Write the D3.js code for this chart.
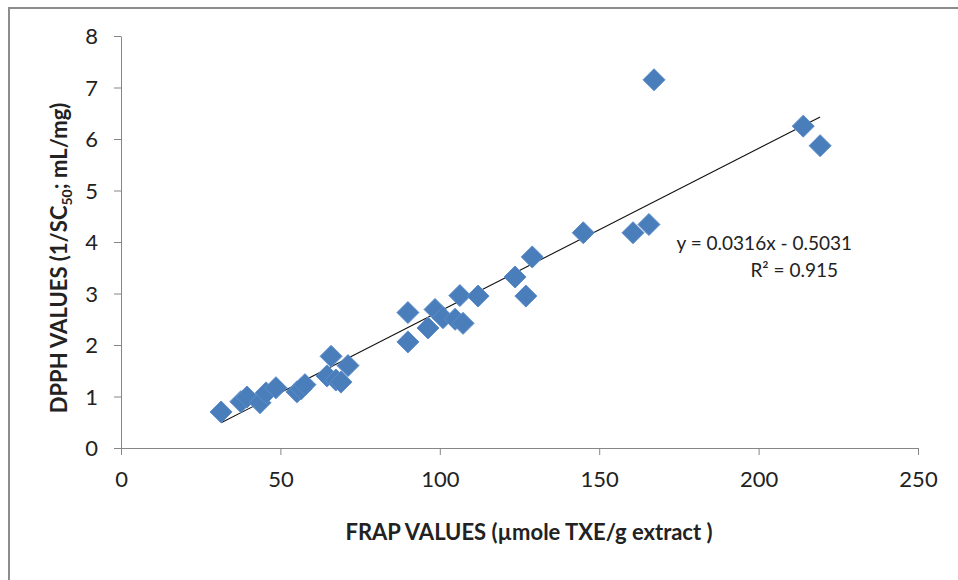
<!DOCTYPE html>
<html>
<head>
<meta charset="utf-8">
<script src="https://cdn.jsdelivr.net/npm/d3@7"></script>
<style>
  body { margin: 0; background: #fff; }
  text { font-family: Lato, "Open Sans", sans-serif; }
</style>
</head>
<body>
<div id="scatter"></div>
<script>
// FRAP vs DPPH values
var frap = [31.4, 37.6, 39.5, 43.6, 45.5, 48.6, 55.2, 56.5, 57.7, 65.9, 64.6, 67.4, 69.0, 71.2,
            90.0, 90.0, 96.3, 98.5, 101.0, 104.8, 107.3, 106.3, 112.0, 123.6, 127.0, 129.0,
            145.0, 160.6, 165.6, 167.2, 214.0, 219.3];
var dpph = [0.70, 0.90, 0.99, 0.88, 1.07, 1.17, 1.09, 1.15, 1.23, 1.78, 1.40, 1.32, 1.28, 1.60,
            2.06, 2.63, 2.33, 2.69, 2.53, 2.50, 2.42, 2.96, 2.95, 3.32, 2.95, 3.71,
            4.18, 4.18, 4.34, 7.15, 6.25, 5.87];
var xTicks = [0, 50, 100, 150, 200, 250];
var yTicks = [0, 1, 2, 3, 4, 5, 6, 7, 8];
var slope = 0.0316;
var intercept = -0.5031;
var eqLines = ["y = 0.0316x - 0.5031", "R\u00b2 = 0.915"];

var svgWidth = 958;
var svgHeight = 580;

var chartMargin = { top: 36, left: 121, right: 40, bottom: 132 };
var chartWidth = svgWidth - chartMargin.left - chartMargin.right;   // 797
var chartHeight = svgHeight - chartMargin.top - chartMargin.bottom; // 412

var data = frap.map(function(f, i) { return { frap: f, dpph: dpph[i] }; });

var svg = d3.select("#scatter")
  .append("svg")
  .attr("width", svgWidth)
  .attr("height", svgHeight);

// outer frame (only top/left visible)
svg.append("rect")
  .attr("x", 9).attr("y", 8)
  .attr("width", 970).attr("height", 600)
  .attr("fill", "none")
  .attr("stroke", "#8c8c8c")
  .attr("stroke-width", 2);

var chartGroup = svg.append("g")
  .attr("transform", `translate(${chartMargin.left}, ${chartMargin.top})`);

var xScale = d3.scaleLinear().domain([0, 250]).range([0, chartWidth]);
var yScale = d3.scaleLinear().domain([0, 8]).range([chartHeight, 0]);

var bottomAxis = d3.axisBottom(xScale).tickValues(xTicks).tickSize(7).tickPadding(16).tickSizeOuter(0);
var leftAxis = d3.axisLeft(yScale).tickValues(yTicks).tickSize(7).tickPadding(16).tickSizeOuter(0);

var gx = chartGroup.append("g")
  .attr("transform", `translate(0, ${chartHeight})`)
  .call(bottomAxis);
var gy = chartGroup.append("g")
  .call(leftAxis);

[gx, gy].forEach(function(g) {
  g.selectAll("path, line").attr("stroke", "#868686").attr("stroke-width", 1);
  g.selectAll("text")
    .attr("fill", "#222")
    .style("font-size", "22px")
    .style("font-family", "Lato, 'Open Sans', sans-serif");
});
gy.selectAll("text").attr("dy", "0.36em");

// trendline from smallest to largest x
var xMin = d3.min(frap), xMax = d3.max(frap);
chartGroup.append("line")
  .attr("x1", xScale(xMin)).attr("y1", yScale(slope * xMin + intercept))
  .attr("x2", xScale(xMax)).attr("y2", yScale(slope * xMax + intercept))
  .attr("stroke", "#111")
  .attr("stroke-width", 1.1);

// diamonds
var half = 11;
chartGroup.selectAll(".pt")
  .data(data)
  .enter()
  .append("path")
  .attr("class", "pt")
  .attr("d", `M0,${-half}L${half},0L0,${half}L${-half},0Z`)
  .attr("transform", d => `translate(${xScale(d.frap)}, ${yScale(d.dpph)})`)
  .attr("fill", "#4a7ebb")
  .attr("stroke", "#5b8ccb")
  .attr("stroke-width", 1);

// equation label
chartGroup.append("text")
  .attr("x", 731).attr("y", 214)
  .attr("text-anchor", "end")
  .style("font-size", "19px")
  .attr("fill", "#222")
  .text(eqLines[0]);
chartGroup.append("text")
  .attr("x", 717).attr("y", 241)
  .attr("text-anchor", "end")
  .style("font-size", "19px")
  .attr("fill", "#222")
  .text(eqLines[1]);

// axis titles
svg.append("text")
  .attr("x", 529)
  .attr("y", 540)
  .style("font-weight", "bold")
  .style("font-size", "22px")
  .style("text-anchor", "middle")
  .attr("fill", "#222")
  .text("FRAP VALUES (\u00b5mole TXE/g extract )");

var yTitle = svg.append("text")
  .attr("transform", "translate(67, 258) rotate(-90)")
  .style("font-weight", "bold")
  .style("font-size", "22px")
  .style("text-anchor", "middle")
  .attr("fill", "#222");
yTitle.append("tspan").text("DPPH VALUES (1/SC");
yTitle.append("tspan").attr("dy", 5).style("font-size", "14px").text("50");
yTitle.append("tspan").attr("dy", -5).text("; mL/mg)");
</script>
</body>
</html>
